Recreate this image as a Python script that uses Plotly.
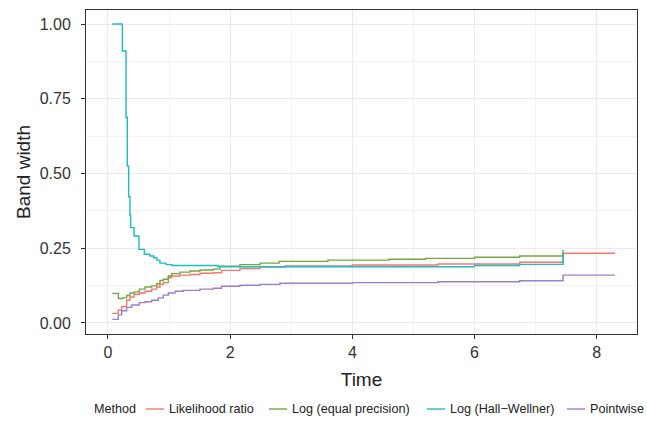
import plotly.graph_objects as go

methods = ["Likelihood ratio", "Log (equal precision)", "Log (Hall\u2212Wellner)", "Pointwise"]
colors = ["#F8766D", "#72A83E", "#1DBDC2", "#9C7FC6"]

lr_time = [0.071, 0.169, 0.224, 0.306, 0.36, 0.426, 0.513, 0.606, 0.715, 0.797, 0.851, 0.906, 0.987,
           1.042, 1.178, 1.342, 1.506, 1.724, 1.86, 2.16, 2.49, 2.9, 4.0, 5.4, 6.74, 7.45, 8.30]
lr_width = [0.032, 0.043, 0.055, 0.076, 0.087, 0.096, 0.100, 0.106, 0.113, 0.120, 0.129, 0.135, 0.151,
            0.157, 0.160, 0.162, 0.166, 0.168, 0.176, 0.182, 0.187, 0.191, 0.194, 0.197, 0.203, 0.233, 0.233]

ep_time = [0.071, 0.169, 0.235, 0.306, 0.36, 0.426, 0.513, 0.606, 0.715, 0.797, 0.851, 0.906, 0.987,
           1.042, 1.178, 1.342, 1.506, 1.724, 1.833, 2.16, 2.49, 2.8, 3.6, 4.6, 5.2, 6.0, 6.74, 7.45]
ep_width = [0.099, 0.082, 0.084, 0.092, 0.100, 0.104, 0.113, 0.120, 0.124, 0.131, 0.142, 0.146, 0.157,
            0.165, 0.170, 0.174, 0.177, 0.180, 0.190, 0.195, 0.200, 0.206, 0.210, 0.213, 0.216, 0.220, 0.224, 0.244]

hw_time = [0.071, 0.235, 0.295, 0.316, 0.338, 0.36, 0.371, 0.426, 0.507, 0.595, 0.687, 0.75, 0.8,
           0.851, 0.95, 1.042, 1.8, 6.0, 6.74, 7.45]
hw_width = [1.0, 0.91, 0.688, 0.525, 0.422, 0.361, 0.319, 0.291, 0.246, 0.230, 0.224, 0.218, 0.210,
            0.200, 0.195, 0.192, 0.188, 0.192, 0.196, 0.233]

pw_time = [0.071, 0.169, 0.224, 0.306, 0.387, 0.513, 0.606, 0.715, 0.824, 0.906, 0.987, 1.097, 1.233,
           1.506, 1.724, 1.86, 2.16, 2.49, 2.815, 4.0, 5.4, 6.74, 7.45, 8.30]
pw_width = [0.012, 0.027, 0.041, 0.052, 0.060, 0.068, 0.071, 0.076, 0.084, 0.093, 0.100, 0.106, 0.109,
            0.113, 0.116, 0.123, 0.126, 0.129, 0.133, 0.135, 0.138, 0.141, 0.160, 0.160]

x_ticks = [0, 2, 4, 6, 8]
y_ticks = [0.0, 0.25, 0.5, 0.75, 1.0]
y_tick_labels = ["0.00", "0.25", "0.50", "0.75", "1.00"]

series = [(lr_time, lr_width), (ep_time, ep_width), (hw_time, hw_width), (pw_time, pw_width)]

W, H = 647, 421
ML, MR, MT, MB = 86, 10, 10, 87
PW, PH = W - ML - MR, H - MT - MB

fig = go.Figure()
for name, col, (t, w) in zip(methods, colors, series):
    fig.add_trace(go.Scatter(x=t, y=w, mode="lines", name=name, showlegend=False,
                             line=dict(color=col, width=1.4, shape="hv")))

font = "Liberation Sans, Arial, sans-serif"
axis_common = dict(
    showgrid=True, gridcolor="#EBEBEB", gridwidth=1.1,
    zeroline=False, showline=True, mirror=True, linecolor="#333333", linewidth=1,
    ticks="outside", ticklen=4, tickcolor="#333333", tickwidth=1,
    tickfont=dict(family=font, size=16, color="#333333"),
    automargin=False,
)

# manual legend (layout positions in pixels)
def px2paper_x(px):
    return (px - ML) / PW

def py2paper_y(py):
    return (H - MB - py) / PH

LEG_FONT = 12.6
leg_y = py2paper_y(409)
key_x0 = [146, 269, 427, 567]
key_len = 18
text_x = [167, 290, 448, 588]

shapes = []
annotations = [dict(text="Method", x=px2paper_x(92), y=leg_y, xref="paper", yref="paper",
                    xanchor="left", yanchor="middle", showarrow=False,
                    font=dict(family=font, size=LEG_FONT, color="#222222"))]
for name, col, kx, tx in zip(methods, colors, key_x0, text_x):
    shapes.append(dict(type="line", xref="paper", yref="paper",
                       x0=px2paper_x(kx), x1=px2paper_x(kx + key_len), y0=leg_y, y1=leg_y,
                       line=dict(color=col, width=1.4)))
    annotations.append(dict(text=name, x=px2paper_x(tx), y=leg_y, xref="paper", yref="paper",
                            xanchor="left", yanchor="middle", showarrow=False,
                            font=dict(family=font, size=LEG_FONT, color="#222222")))

fig.update_layout(
    width=W, height=H,
    margin=dict(l=ML, r=MR, t=MT, b=MB),
    paper_bgcolor="white", plot_bgcolor="white",
    font=dict(family=font, color="#222222"),
    showlegend=False,
    xaxis=dict(range=[-0.36, 8.66], tickvals=x_ticks, ticklabelstandoff=0,
               title=dict(text="Time", font=dict(size=19, family=font, color="#222222"), standoff=12),
               minor=dict(dtick=1, tick0=1, showgrid=True, gridcolor="#F2F2F2", gridwidth=0.7, ticks=""),
               **axis_common),
    yaxis=dict(range=[-0.037, 1.047], tickvals=y_ticks, ticktext=y_tick_labels, ticklabelstandoff=7,
               title=dict(text="Band width", font=dict(size=19, family=font, color="#222222"), standoff=4),
               minor=dict(dtick=0.125, tick0=0.125, showgrid=True, gridcolor="#F2F2F2", gridwidth=0.7, ticks=""),
               **axis_common),
    shapes=shapes,
    annotations=annotations,
)

fig.write_html("out.html", config={"displayModeBar": False},
               post_script="document.body.style.margin='0px';document.body.style.overflow='hidden';")
